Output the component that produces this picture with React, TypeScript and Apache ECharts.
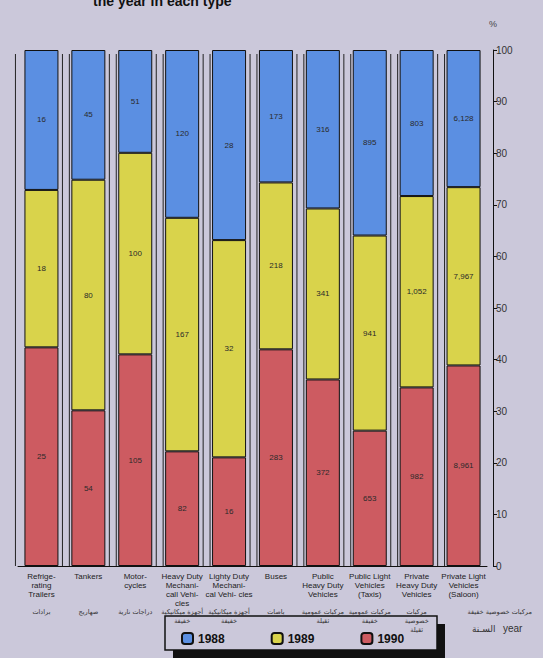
import React, { useEffect, useRef } from "react";
import * as echarts from "echarts";

const categoriesEn = [
  "Refrige-\nrating\nTrailers",
  "Tankers",
  "Motor-\ncycles",
  "Heavy Duty\nMechani-\ncall Vehi-\ncles",
  "Lighty Duty\nMechani-\ncal Vehi- cles",
  "Buses",
  "Public\nHeavy Duty\nVehicles",
  "Public Light\nVehicles\n(Taxis)",
  "Private\nHeavy Duty\nVehicles",
  "Private Light\nVehicles\n(Saloon)",
];
const categoriesAr = [
  "برادات",
  "صهاريج",
  "دراجات نارية",
  "أجهزة ميكانيكية\nخفيفة",
  "أجهزة ميكانيكية\nخفيفة",
  "باصات",
  "مركبات عمومية\nثقيلة",
  "مركبات عمومية\nخفيفة",
  "مركبات\nخصوصية\nثقيلة",
  "مركبات خصوصية خفيفة",
];
const values1988 = [16, 45, 51, 120, 28, 173, 316, 895, 803, 6128];
const values1989 = [18, 80, 100, 167, 32, 218, 341, 941, 1052, 7967];
const values1990 = [25, 54, 105, 82, 16, 283, 372, 653, 982, 8961];
const percentTicks = { min: 0, max: 100, interval: 10 };

const BG = "#cbc8da";

export default function App() {
  const ref = useRef<HTMLDivElement>(null);
  useEffect(() => {
    if (!ref.current) return;
    const chart = echarts.init(ref.current, null, { renderer: "svg" });
    const totals = categoriesEn.map((_, i) => values1988[i] + values1989[i] + values1990[i]);
    const mk = (arr: number[]) => arr.map((v, i) => ({ value: (v / totals[i]) * 100, raw: v }));
    const BW = 34;
    const barCommon = {
      type: "bar",
      stack: "total",
      barWidth: BW,
      xAxisIndex: 0,
      itemStyle: { borderColor: "#111", borderWidth: 1 },
      label: {
        show: true,
        position: "inside",
        fontSize: 8,
        color: "#2a2a2a",
        fontFamily: "Liberation Sans, Arial, sans-serif",
        formatter: (p: any) => p.data.raw.toLocaleString("en-US"),
      },
      z: 3,
    };
    const n = categoriesEn.length;
    const arData = categoriesAr.map((t, i) =>
      i === n - 1 ? { value: t, textStyle: { align: "left", padding: [0, 0, 0, 4] } } : t
    );
    chart.setOption({
      animation: false,
      backgroundColor: BG,
      textStyle: { fontFamily: "Liberation Sans, Arial, sans-serif" },
      grid: { left: 18, right: 56, top: 50, bottom: 92 },
      legend: {
        data: ["1988", "1989", "1990"],
        left: 176,
        top: 627,
        itemWidth: 11,
        itemHeight: 11,
        itemGap: 46,
        textStyle: { fontSize: 12, fontWeight: "bold", color: "#111" },
      },
      xAxis: [
        {
          type: "category",
          data: categoriesEn,
          axisLine: { show: true, lineStyle: { color: "#111", width: 1 } },
          axisTick: { show: false },
          axisLabel: {
            interval: 0,
            fontSize: 8,
            lineHeight: 9,
            color: "#222",
            margin: 6,
            verticalAlign: "top",
          },
        },
        {
          type: "category",
          data: arData,
          position: "bottom",
          offset: 37,
          axisLine: { show: false },
          axisTick: { show: false },
          axisLabel: {
            interval: 0,
            fontSize: 6.5,
            lineHeight: 9,
            color: "#333",
            margin: 4,
            verticalAlign: "top",
            fontFamily: "DejaVu Sans, sans-serif",
          },
        },
      ],
      yAxis: {
        type: "value",
        position: "right",
        offset: 6,
        ...percentTicks,
        name: "%",
        nameLocation: "end",
        nameGap: 22,
        nameTextStyle: { fontSize: 9, color: "#444" },
        axisLine: { show: true, lineStyle: { color: "#111", width: 1 } },
        axisTick: { show: true, length: 4, lineStyle: { color: "#111" } },
        axisLabel: { fontSize: 10, color: "#333", margin: 3 },
        splitLine: { show: false },
      },
      series: [
        {
          type: "custom",
          silent: true,
          z: 1,
          xAxisIndex: 0,
          data: categoriesEn.map((_, i) => [i, 100]),
          encode: { x: 0, y: 1 },
          renderItem: (params: any, api: any) => {
            const i = api.value(0);
            const top = api.coord([i, 100]);
            const bot = api.coord([i, 0]);
            const half = BW / 2;
            const xs: number[] = [];
            if (i === 0) xs.push(top[0] - half - 9);
            else xs.push(top[0] - half - 2);
            if (i < n - 1) xs.push(top[0] + half + 4);
            return {
              type: "group",
              children: xs.map((x) => ({
                type: "line",
                shape: { x1: x, y1: top[1] + 4, x2: x, y2: bot[1] },
                style: { stroke: "#222", lineWidth: 1 },
              })),
            };
          },
        },
        { ...barCommon, name: "1990", data: mk(values1990), itemStyle: { ...barCommon.itemStyle, color: "#cd5b61" } },
        { ...barCommon, name: "1989", data: mk(values1989), itemStyle: { ...barCommon.itemStyle, color: "#d9d34b" } },
        { ...barCommon, name: "1988", data: mk(values1988), itemStyle: { ...barCommon.itemStyle, color: "#5b8fe2" } },
      ],
      graphic: [
        {
          type: "text",
          left: 93,
          top: -6,
          style: { text: "the year in each type", fontSize: 14, fontWeight: "bold", fill: "#111" },
        },
        {
          type: "rect",
          shape: { x: 173, y: 624, width: 272, height: 34 },
          style: { fill: "#111" },
          z: -1,
        },
        {
          type: "rect",
          shape: { x: 165, y: 616, width: 272, height: 34 },
          style: { fill: BG, stroke: "#111", lineWidth: 1.5 },
          z: 0,
        },
        {
          type: "text",
          left: 472,
          top: 624,
          style: { text: "السـنة", fontSize: 9, fill: "#333", fontFamily: "DejaVu Sans, sans-serif" },
        },
        {
          type: "text",
          left: 503,
          top: 623,
          style: { text: "year", fontSize: 10, fill: "#333" },
        },
      ],
    });
    return () => chart.dispose();
  }, []);
  return (
    <div style={{ position: "fixed", left: 0, top: 0, width: 543, height: 658, background: BG }}>
      <div ref={ref} style={{ width: 543, height: 658 }} />
    </div>
  );
}
